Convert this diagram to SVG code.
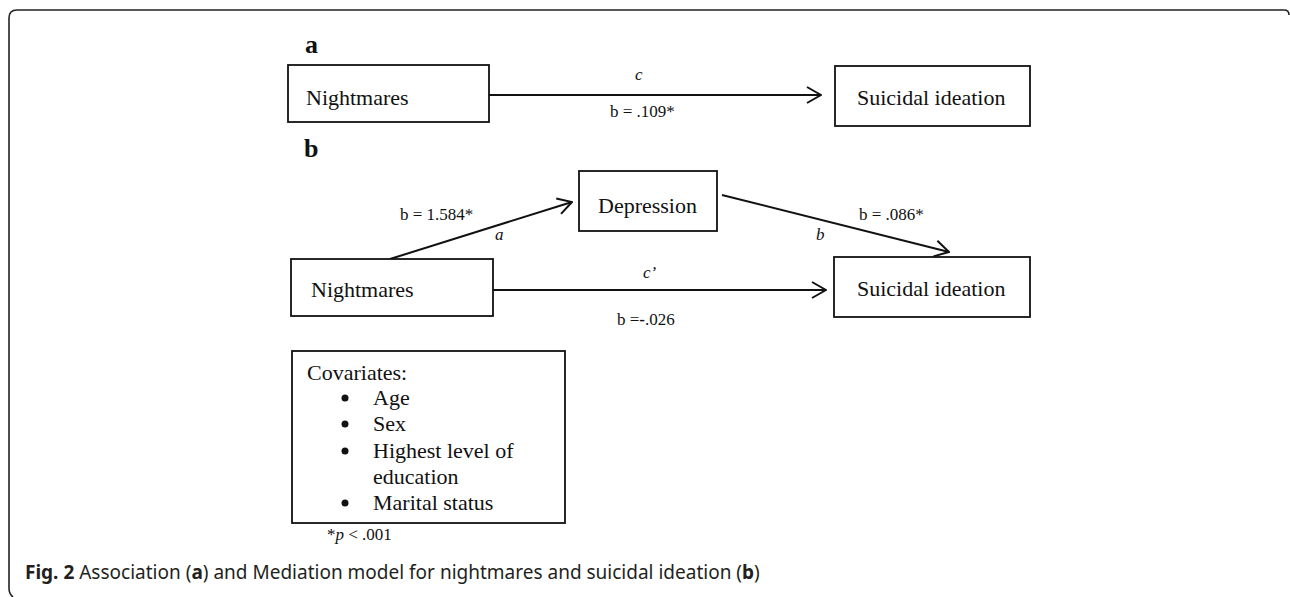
<svg xmlns="http://www.w3.org/2000/svg" width="1290" height="597" viewBox="0 0 1290 597">
<defs>
<style>
.box{fill:#fff;stroke:#111;stroke-width:1.8}
.lbl{font-family:"Liberation Serif","Times New Roman",serif;font-size:22px;fill:#111}
.small{font-family:"Liberation Serif","Times New Roman",serif;font-size:17px;fill:#111}
.it{font-style:italic}
.panel{font-family:"Liberation Serif","Times New Roman",serif;font-size:26px;font-weight:bold;fill:#111}
.conn{stroke:#111;stroke-width:2;fill:none}
.cap{font-family:"Noto Sans","Open Sans",sans-serif;font-size:19px;fill:#231f20}
</style>
<marker id="arr" viewBox="0 0 16 18" refX="15" refY="9" markerWidth="16" markerHeight="18" markerUnits="userSpaceOnUse" orient="auto">
<path d="M1,1 L15,9 L1,17" fill="none" stroke="#111" stroke-width="2"/>
</marker>
</defs>
<rect width="1290" height="597" fill="#fff"/>
<path d="M13,597 Q9,594 9,588 L9,18 Q9,10 17,10 L1284,10 Q1289,10 1289,15" fill="none" stroke="#222" stroke-width="1.6"/>

<text class="panel" x="305" y="53">a</text>
<text class="panel" x="304" y="157">b</text>

<g id="connectors">
<line class="conn" x1="489" y1="95" x2="821" y2="95" marker-end="url(#arr)"/>
<line class="conn" x1="390" y1="259" x2="572" y2="202" marker-end="url(#arr)"/>
<line class="conn" x1="722" y1="195" x2="949" y2="252" marker-end="url(#arr)"/>
<line class="conn" x1="493" y1="290" x2="826" y2="290" marker-end="url(#arr)"/>
<text class="small it" x="635" y="80">c</text>
<text class="small" x="610" y="117">b = .109*</text>
<text class="small" x="400" y="220">b = 1.584*</text>
<text class="small it" x="495" y="240">a</text>
<text class="small" x="859" y="220">b = .086*</text>
<text class="small it" x="816" y="240">b</text>
<text class="small it" x="643" y="278">c’</text>
<text class="small" x="617" y="325">b =<tspan font-weight="bold">-</tspan>.026</text>
</g>

<g id="nightmares-a">
<rect class="box" x="288" y="65" width="201" height="57"/>
<text class="lbl" x="306" y="105">Nightmares</text>
</g>
<g id="suicidal-a">
<rect class="box" x="835" y="66" width="195" height="60"/>
<text class="lbl" x="857" y="105">Suicidal ideation</text>
</g>
<g id="depression">
<rect class="box" x="579" y="171" width="138" height="60"/>
<text class="lbl" x="598" y="213">Depression</text>
</g>
<g id="nightmares-b">
<rect class="box" x="291" y="259" width="202" height="57"/>
<text class="lbl" x="311" y="297">Nightmares</text>
</g>
<g id="suicidal-b">
<rect class="box" x="834" y="257" width="196" height="60"/>
<text class="lbl" x="857" y="296">Suicidal ideation</text>
</g>
<g id="covariates">
<rect class="box" x="292" y="351" width="273" height="172"/>
<text class="lbl" x="307" y="380">Covariates:</text>
<g fill="#111">
<circle cx="345" cy="398" r="3.5"/>
<circle cx="345" cy="424" r="3.5"/>
<circle cx="345" cy="451" r="3.5"/>
<circle cx="345" cy="503" r="3.5"/>
</g>
<text class="lbl" x="373" y="405">Age</text>
<text class="lbl" x="373" y="431">Sex</text>
<text class="lbl" x="373" y="458">Highest level of</text>
<text class="lbl" x="373" y="484">education</text>
<text class="lbl" x="373" y="510">Marital status</text>
</g>

<text class="small" x="327" y="540">*<tspan class="it">p</tspan> &lt; .001</text>

<text class="cap" x="25" y="579"><tspan font-weight="bold">Fig. 2</tspan> Association (<tspan font-weight="bold">a</tspan>) and Mediation model for nightmares and suicidal ideation (<tspan font-weight="bold">b</tspan>)</text>
</svg>
